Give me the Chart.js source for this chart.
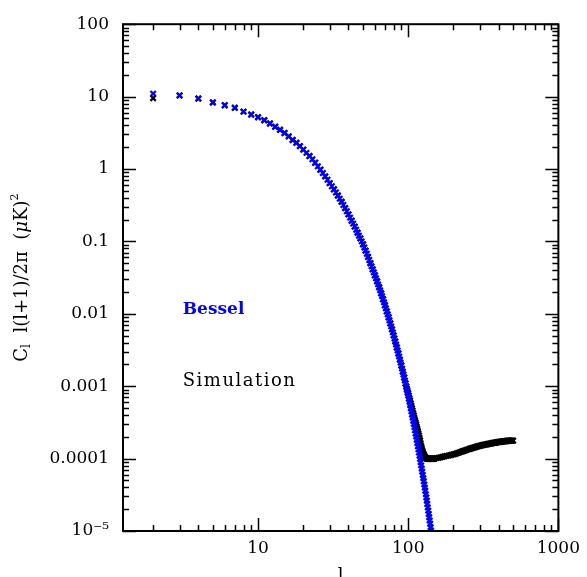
<!DOCTYPE html>
<html>
<head>
<meta charset="utf-8">
<title>C_l spectrum</title>
<script src="https://cdn.jsdelivr.net/npm/chart.js@4.4.0/dist/chart.umd.min.js"></script>
<style>
  html, body { margin: 0; padding: 0; background: #fff; }
  canvas { display: block; }
</style>
</head>
<body>
<canvas id="spectrum" width="587" height="577"></canvas>
<script>
// multipoles and C_l l(l+1)/2pi in (uK)^2
var besselL = [2,3,4,5,6,7,8,9,10,11,12,13,14,15,16,17,18,19,20,
    21,22,23,24,25,26,27,28,29,30,31,32,33,34,35,36,37,38,39,40,
    41,42,43,44,45,46,47,48,49,50,51,52,53,54,55,56,57,58,59,60,
    61,62,63,64,65,66,67,68,69,70,71,72,73,74,75,76,77,78,79,80,
    81,82,83,84,85,86,87,88,89,90,91,92,93,94,95,96,97,98,99,100,
    101,102,103,104,105,106,107,108,109,110,111,112,113,114,115,116,117,118,119,120,
    121,122,123,124,125,126,127,128,129,130,131,132,133,134,135,136,137,138,139,140,
    141,142,143,144];
var besselCl = [11.0,10.35,9.4,8.3,7.6,7.0,6.2,5.65,5.2,4.72,4.25,3.83,3.48,3.14,2.82,2.52,2.30,2.07,1.85,
    1.67,1.51,1.36,1.22,1.09,0.977,0.879,0.791,0.710,0.638,0.578,0.524,0.474,0.430,0.389,0.352,0.318,0.288,0.261,0.236,
    0.213,0.193,0.176,0.160,0.145,0.132,0.120,0.110,0.100,0.0912,0.0825,0.0746,0.0675,0.0611,0.0553,0.0500,0.0453,0.0411,0.0374,0.0340,
    0.0309,0.0281,0.0255,0.0232,0.0211,0.0192,0.0175,0.0159,0.0144,0.0131,0.0119,0.0108,0.00983,0.00895,0.00813,0.00738,0.00671,0.00610,0.00554,0.00504,
    0.00457,0.00415,0.00377,0.00343,0.00312,0.00283,0.00257,0.00233,0.00212,0.00193,0.00175,0.00159,0.00145,0.00132,0.00120,0.00109,0.000989,0.000897,0.000815,0.000741,
    0.000671,0.000607,0.000549,0.000497,0.000449,0.000406,0.000368,0.000333,0.000301,0.000272,0.000246,0.000222,0.000201,0.000182,0.000164,0.000148,0.000134,0.000121,0.000109,9.89e-5,
    8.93e-5,8.07e-5,7.29e-5,6.59e-5,5.95e-5,5.38e-5,4.87e-5,4.40e-5,3.97e-5,3.59e-5,3.23e-5,2.91e-5,2.62e-5,2.36e-5,2.12e-5,1.91e-5,1.72e-5,1.55e-5,1.40e-5,1.26e-5,
    1.13e-5,1.02e-5,9.19e-6,8.28e-6];

var simL = [2,3,4,5,6,7,8,9,10,11,12,13,14,15,16,17,18,19,20,
    22,24,26,28,30,32,34,36,38,40,42,44,46,48,50,52,54,56,58,60,62,64,66,68,70,72,74,76,78,80,
    82,84,86,88,90,92,94,96,
    97,98,99,100,101,102,103,104,105,106,107,108,109,110,111,112,113,114,115,116,117,118,119,120,
    121,122,123,124,125,126,127,128,129,130,131,132,133,134,135,136,137,138,139,140,
    141,142,143,144,145,146,147,148,149,150,
    155,160,165,170,175,180,185,190,195,200,205,210,215,220,225,230,235,240,245,250,
    255,260,265,270,275,280,285,290,295,300,305,310,315,320,325,330,335,340,345,350,
    355,360,365,370,375,380,385,390,395,400,405,410,415,420,425,430,435,440,445,450,
    455,460,465,470,475,480,485,490,495,500];
var simCl = [9.5,10.4,9.4,8.3,7.6,7.0,6.2,5.65,5.2,4.72,4.25,3.83,3.48,3.14,2.82,2.52,2.30,2.07,1.85,
    1.51,1.22,0.977,0.791,0.638,0.524,0.430,0.352,0.288,0.236,
    0.193,0.160,0.132,0.110,0.0912,0.0746,0.0611,0.0500,0.0411,0.0340,0.0281,0.0232,0.0192,0.0159,0.0131,0.0108,
    0.00895,0.00738,0.00610,0.00504,0.00415,0.00343,0.00283,0.00233,0.00193,0.00159,0.00132,0.00109,
    0.00099,0.00092,0.00086,0.00080,0.00074,0.00068,0.00063,0.00058,0.000535,0.000495,0.00046,0.000425,
    0.000395,0.000365,0.00034,0.000315,0.000295,0.000275,0.000257,0.00024,0.000223,0.000208,0.000193,0.000178,
    0.000163,0.00015,0.00014,0.000131,0.000124,0.000118,0.000113,0.000109,0.000106,0.000104,
    0.000102,0.000101,0.0001,0.0001,9.98e-5,9.96e-5,9.95e-5,9.95e-5,9.95e-5,9.95e-5,
    9.95e-5,9.95e-5,9.95e-5,9.95e-5,9.95e-5,9.96e-5,9.97e-5,1.0e-4,1.0e-4,1.005e-4,
    1.015e-4,1.03e-4,1.045e-4,1.06e-4,1.075e-4,1.09e-4,1.10e-4,1.115e-4,1.13e-4,1.145e-4,
    1.16e-4,1.18e-4,1.20e-4,1.22e-4,1.24e-4,1.26e-4,1.28e-4,1.30e-4,1.32e-4,1.34e-4,
    1.36e-4,1.375e-4,1.39e-4,1.41e-4,1.425e-4,1.44e-4,1.46e-4,1.475e-4,1.49e-4,1.50e-4,
    1.515e-4,1.53e-4,1.54e-4,1.55e-4,1.56e-4,1.57e-4,1.58e-4,1.59e-4,1.60e-4,1.61e-4,
    1.62e-4,1.63e-4,1.64e-4,1.65e-4,1.655e-4,1.66e-4,1.67e-4,1.68e-4,1.69e-4,1.695e-4,
    1.70e-4,1.71e-4,1.715e-4,1.72e-4,1.725e-4,1.73e-4,1.735e-4,1.74e-4,1.745e-4,1.75e-4,
    1.755e-4,1.76e-4,1.76e-4,1.765e-4,1.765e-4,1.77e-4,1.77e-4,1.77e-4,1.77e-4,1.77e-4];

// labelled decades
var xDecades = [10, 100, 1000];
var xDecadeLabels = ['10', '100', '1000'];
var yDecades = [1e-5, 1e-4, 1e-3, 1e-2, 0.1, 1, 10, 100];
var yDecadeLabels = ['10\u207b\u2075', '0.0001', '0.001', '0.01', '0.1', '1', '10', '100'];

var serif = '"DejaVu Serif", "Liberation Serif", serif';

function pairs(ls, cs) {
    return ls.map(function (l, i) { return { x: l, y: cs[i] }; });
}

function decadeIndex(list, v) {
    for (var i = 0; i < list.length; i++) {
        if (Math.abs(v / list[i] - 1) < 1e-6) return i;
    }
    return -1;
}

// 1..9 x 10^n ticks between min and max
function logTicks(scale) {
    var out = [];
    var lo = Math.floor(Math.log10(scale.min)), hi = Math.ceil(Math.log10(scale.max));
    for (var e = lo; e <= hi; e++) {
        for (var m = 1; m < 10; m++) {
            var v = parseFloat((m * Math.pow(10, e)).toPrecision(6));
            if (v >= scale.min * 0.9999 && v <= scale.max * 1.0001) out.push({ value: v });
        }
    }
    scale.ticks = out;
}

// frame with inward ticks on all four sides, plus the text annotations
var framePlugin = {
    id: 'framePlugin',
    afterDatasetsDraw: function (chart) {
        var ctx = chart.ctx, a = chart.chartArea;
        var xs = chart.scales.x, ys = chart.scales.y;
        ctx.save();
        ctx.strokeStyle = '#000';
        ctx.lineWidth = 1.5;
        ctx.beginPath();
        xs.ticks.forEach(function (t) {
            var px = Math.round(xs.getPixelForValue(t.value)) + 0.5;
            var len = decadeIndex(xDecades, t.value) >= 0 ? 13 : 6;
            ctx.moveTo(px, a.bottom); ctx.lineTo(px, a.bottom - len);
            ctx.moveTo(px, a.top); ctx.lineTo(px, a.top + len);
        });
        ys.ticks.forEach(function (t) {
            var py = Math.round(ys.getPixelForValue(t.value)) + 0.5;
            var len = decadeIndex(yDecades, t.value) >= 0 ? 13 : 6;
            ctx.moveTo(a.left, py); ctx.lineTo(a.left + len, py);
            ctx.moveTo(a.right, py); ctx.lineTo(a.right - len, py);
        });
        ctx.stroke();
        ctx.lineWidth = 2;
        ctx.strokeRect(a.left, a.top, a.right - a.left, a.bottom - a.top);

        // series names inside the plot
        ctx.textBaseline = 'middle';
        ctx.textAlign = 'left';
        var lx = xs.getPixelForValue(3.15);
        ctx.fillStyle = '#0000ff';
        ctx.font = 'bold 17px ' + serif;
        ctx.fillText('Bessel', lx, ys.getPixelForValue(0.0115));
        ctx.fillStyle = '#000';
        ctx.font = '18px ' + serif;
        ctx.letterSpacing = '1.5px';
        ctx.fillText('Simulation', lx, ys.getPixelForValue(0.00118));
        ctx.letterSpacing = '0px';

        // x title
        ctx.textAlign = 'center';
        ctx.textBaseline = 'alphabetic';
        ctx.font = '18px ' + serif;
        ctx.fillText('l', (a.left + a.right) / 2, 581);

        // y title, rotated
        var parts = [
            { t: 'C', f: '18px ' + serif, dy: 0 },
            { t: 'l', f: '12px ' + serif, dy: 5 },
            { t: '  l(l+1)/2\u03c0  (', f: '18px ' + serif, dy: 0 },
            { t: '\u03bc', f: 'italic 18px ' + serif, dy: 0 },
            { t: 'K)', f: '18px ' + serif, dy: 0 },
            { t: '2', f: '11px ' + serif, dy: -7 }
        ];
        var total = 0;
        parts.forEach(function (p) { ctx.font = p.f; p.w = ctx.measureText(p.t).width; total += p.w; });
        ctx.translate(22, (a.top + a.bottom) / 2);
        ctx.rotate(-Math.PI / 2);
        ctx.textAlign = 'left';
        ctx.textBaseline = 'middle';
        var cx = -total / 2;
        parts.forEach(function (p) {
            ctx.font = p.f;
            ctx.fillText(p.t, cx, p.dy);
            cx += p.w;
        });
        ctx.restore();
    }
};

var chart = new Chart(document.getElementById('spectrum').getContext('2d'), {
    type: 'scatter',
    data: {
        datasets: [{
            label: 'Bessel',
            data: pairs(besselL, besselCl),
            pointStyle: 'crossRot',
            pointRadius: 3.8,
            pointBorderWidth: 2.2,
            borderColor: '#0000ff',
            backgroundColor: '#0000ff',
            showLine: false
        }, {
            label: 'Simulation',
            data: pairs(simL, simCl),
            pointStyle: 'crossRot',
            pointRadius: 3.8,
            pointBorderWidth: 2.2,
            borderColor: '#000000',
            backgroundColor: '#000000',
            showLine: false
        }]
    },
    options: {
        responsive: false,
        animation: false,
        layout: { padding: { left: 0, top: 17, right: 25, bottom: 0 } },
        plugins: { legend: { display: false }, tooltip: { enabled: false } },
        scales: {
            x: {
                type: 'logarithmic',
                min: 1.26,
                max: 1000,
                grid: { display: false, drawTicks: false },
                border: { display: false },
                afterBuildTicks: logTicks,
                afterFit: function (s) { s.height = 46; },
                ticks: {
                    autoSkip: false,
                    maxRotation: 0,
                    minRotation: 0,
                    padding: 7,
                    color: '#000',
                    font: { family: serif, size: 17 },
                    callback: function (v) {
                        var i = decadeIndex(xDecades, v);
                        return i >= 0 ? xDecadeLabels[i] : '';
                    }
                }
            },
            y: {
                type: 'logarithmic',
                min: 1e-5,
                max: 100,
                grid: { display: false, drawTicks: false },
                border: { display: false },
                afterBuildTicks: logTicks,
                afterFit: function (s) { s.width = 123; },
                ticks: {
                    autoSkip: false,
                    padding: 14,
                    color: '#000',
                    font: { family: serif, size: 17 },
                    callback: function (v) {
                        var i = decadeIndex(yDecades, v);
                        return i >= 0 ? yDecadeLabels[i] : '';
                    }
                }
            }
        }
    },
    plugins: [framePlugin]
});
</script>
</body>
</html>
